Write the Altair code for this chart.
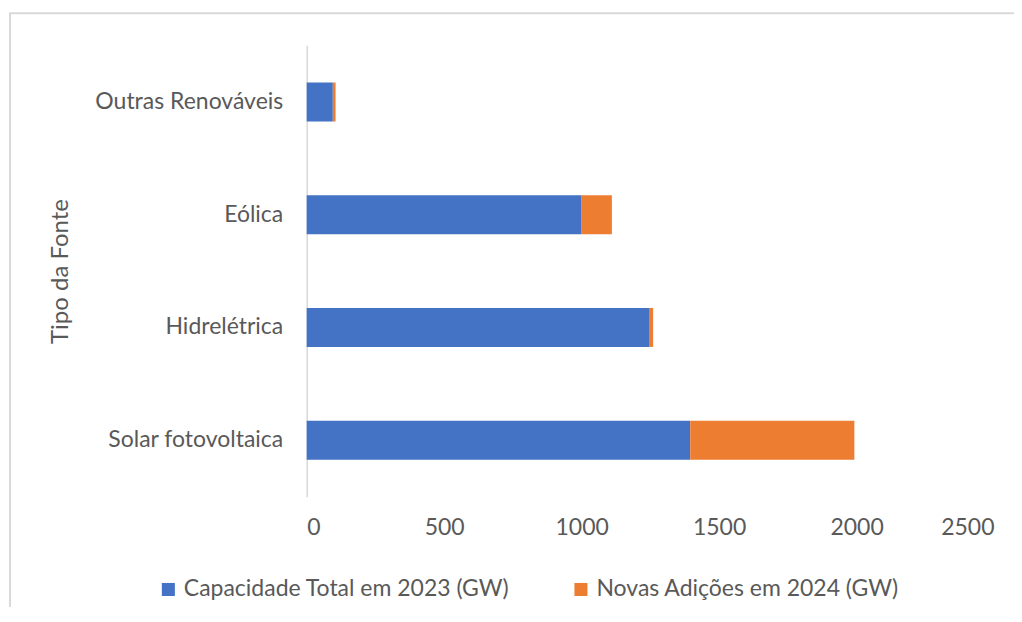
import altair as alt
import pandas as pd

categories = ["Outras Renováveis", "Eólica", "Hidrelétrica", "Solar fotovoltaica"]
capacity_2023 = [95, 1000, 1245, 1395]
additions_2024 = [10, 110, 15, 597]
series_names = ["Capacidade Total em 2023 (GW)", "Novas Adições em 2024 (GW)"]
x_ticks = [0, 500, 1000, 1500, 2000, 2500]

rows = []
for c, a, b in zip(categories, capacity_2023, additions_2024):
    rows.append({"Fonte": c, "Série": series_names[0], "Valor": a, "ord": 0})
    rows.append({"Fonte": c, "Série": series_names[1], "Valor": b, "ord": 1})
df = pd.DataFrame(rows)

FONT = "Lato"
GRAY = "#595959"
FS = 23

bars = alt.Chart(df).mark_bar(size=39).encode(
    y=alt.Y("Fonte:N", sort=categories,
            scale=alt.Scale(paddingInner=0.655, paddingOuter=0.33),
            axis=alt.Axis(title="Tipo da Fonte", ticks=False, domainColor="#d9d9d9",
                          domainWidth=1.5, labelPadding=24, labelFontSize=FS,
                          labelColor=GRAY, labelFont=FONT, labelLimit=400,
                          titleFont=FONT,
                          titleFontSize=FS + 1, titleColor=GRAY, titleFontWeight="normal",
                          titleX=-234, titleY=226)),
    x=alt.X("Valor:Q", stack="zero",
            scale=alt.Scale(domain=[0, 2500], nice=False),
            axis=alt.Axis(title=None, values=x_ticks, format="d", grid=False, ticks=False,
                          domain=False, labelPadding=20, labelFontSize=FS,
                          labelColor=GRAY, labelFont=FONT)),
    color=alt.Color("Série:N", scale=alt.Scale(domain=series_names,
                                               range=["#4472C4", "#ED7D31"]),
                    legend=alt.Legend(title=None, orient="none", legendX=-150,
                                      legendY=533, direction="horizontal",
                                      symbolType="square", symbolSize=170,
                                      symbolStrokeWidth=0, columnPadding=60,
                                      labelFontSize=FS, labelColor=GRAY,
                                      labelFont=FONT, labelLimit=500)),
    order=alt.Order("ord:Q"),
)

frame = alt.Chart(pd.DataFrame({"k": [0]})).mark_rect(
    fill=None, stroke="#d9d9d9", strokeWidth=2
).encode(
    x=alt.value(10 - 307), x2=alt.value(1100 - 307),
    y=alt.value(13 - 45), y2=alt.value(700 - 45),
)

chart = alt.layer(frame, bars).properties(
    width=688, height=452,
    autosize=alt.AutoSizeParams(type="none"),
    padding={"left": 299, "top": 37, "right": 20, "bottom": 110},
).configure_view(stroke=None)

chart.save("out.html", embed_options={"renderer": "svg", "actions": False})
